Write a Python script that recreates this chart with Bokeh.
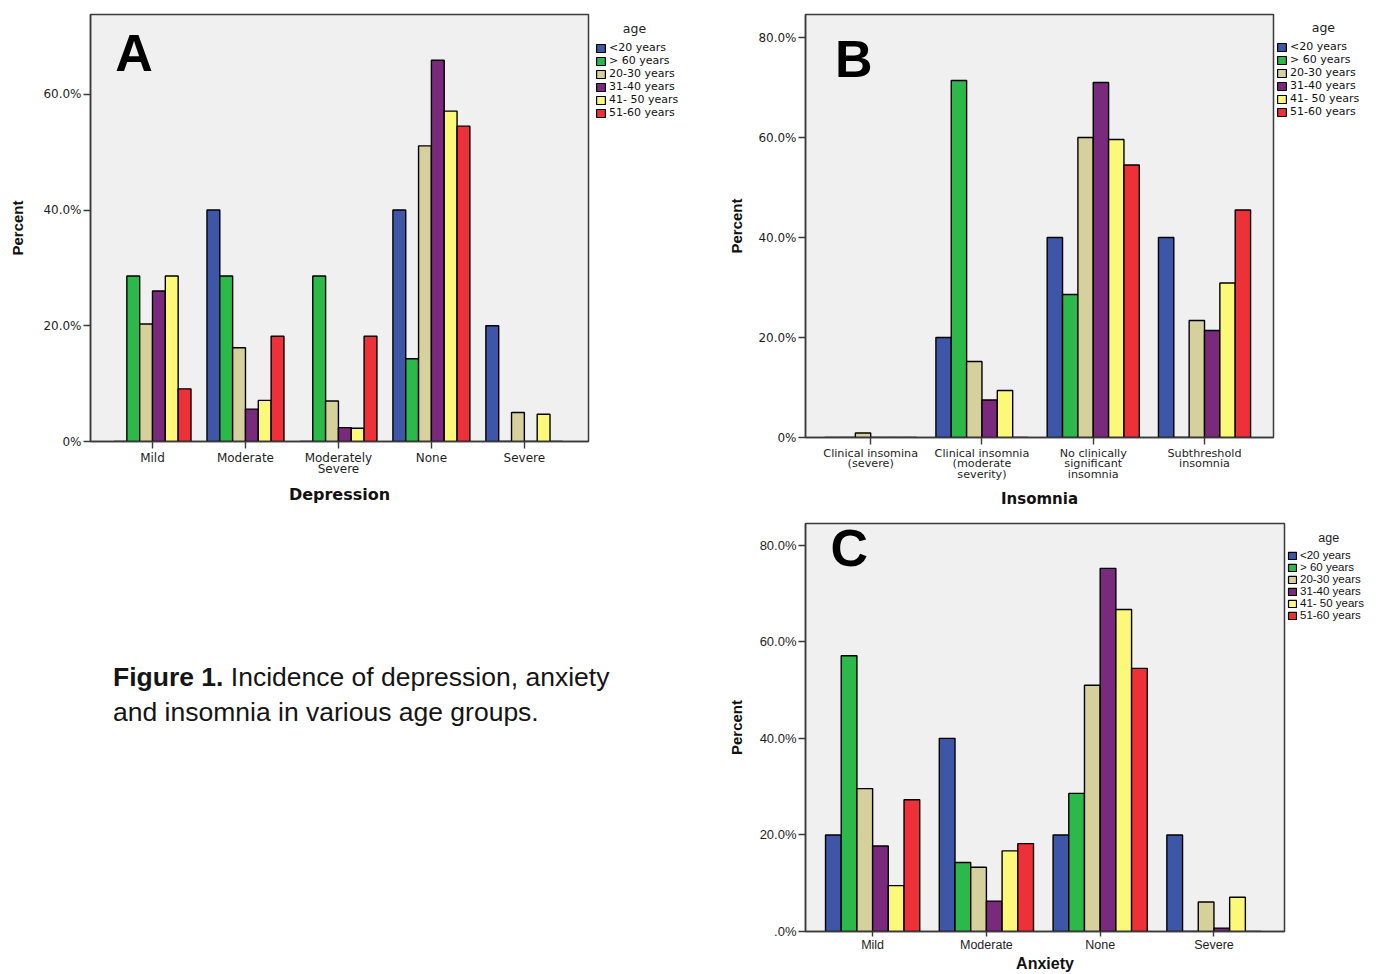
import numpy as np
from bokeh.plotting import figure
from bokeh.models import ColumnDataSource, Range1d, FixedTicker, Legend, LegendItem, Label, Div, Spacer
from bokeh.layouts import row, column
from bokeh.embed import file_html
from bokeh.resources import INLINE

# ---------------- data ----------------
age_groups = ["<20 years", "> 60 years", "20-30 years", "31-40 years", "41- 50 years", "51-60 years"]
age_colors = ["#3d56a8", "#2db84a", "#d6d19c", "#7a2a7c", "#fbf87a", "#ee3039"]

dep_categories = ["Mild", "Moderate", "Moderately\nSevere", "None", "Severe"]
dep_lt20 = [0.0, 40.0, 0.0, 40.0, 20.0]
dep_gt60 = [28.6, 28.6, 28.6, 14.3, 0.0]
dep_20_30 = [20.3, 16.2, 7.0, 51.1, 5.0]
dep_31_40 = [26.0, 5.6, 2.4, 65.9, 0.0]
dep_41_50 = [28.6, 7.1, 2.3, 57.1, 4.7]
dep_51_60 = [9.1, 18.2, 18.2, 54.5, 0.0]

ins_categories = ["Clinical insomina\n(severe)", "Clinical insomnia\n(moderate\nseverity)",
                  "No clinically\nsignificant\ninsomnia", "Subthreshold\ninsomnia"]
ins_lt20 = [0.0, 20.0, 40.0, 40.0]
ins_gt60 = [0.0, 71.4, 28.6, 0.0]
ins_20_30 = [0.9, 15.2, 60.0, 23.4]
ins_31_40 = [0.0, 7.5, 71.0, 21.4]
ins_41_50 = [0.0, 9.4, 59.6, 30.9]
ins_51_60 = [0.0, 0.0, 54.5, 45.5]

anx_categories = ["Mild", "Moderate", "None", "Severe"]
anx_lt20 = [20.0, 40.0, 20.0, 20.0]
anx_gt60 = [57.1, 14.3, 28.6, 0.0]
anx_20_30 = [29.6, 13.3, 51.0, 6.1]
anx_31_40 = [17.7, 6.3, 75.2, 0.7]
anx_41_50 = [9.5, 16.7, 66.7, 7.1]
anx_51_60 = [27.3, 18.2, 54.5, 0.0]

ytick_values = [0, 20, 40, 60, 80]
ytick_labels_ab = ["0%", "20.0%", "40.0%", "60.0%", "80.0%"]
ytick_labels_c = [".0%", "20.0%", "40.0%", "60.0%", "80.0%"]

BW = 0.138


def panel(cats, series, width, height, borders, xr, ymax, yticks, ylabels, xlabel,
          letter, letter_xy, font, ytick_size, xtick_size, xlab_size, ylab_standoff):
    left, right, top, bottom = borders
    p = figure(width=width, height=height, output_backend="svg", toolbar_location=None,
               x_range=Range1d(*xr), y_range=Range1d(0, ymax),
               min_border_left=left, min_border_right=right,
               min_border_top=top, min_border_bottom=bottom)
    p.background_fill_color = "#f0f0f0"
    p.border_fill_color = "white"
    p.outline_line_color = "#3a3a3a"
    p.outline_line_width = 1.5
    p.xgrid.visible = False
    p.ygrid.visible = False

    idx = np.arange(len(cats))
    for k, (vals, col) in enumerate(zip(series, age_colors)):
        src = ColumnDataSource(dict(x=idx + (k - 2.5) * BW, top=vals))
        p.vbar(x="x", top="top", bottom=0, width=BW, source=src,
               fill_color=col, line_color="black", line_width=1.4)

    for ax in (p.xaxis[0], p.yaxis[0]):
        ax.axis_line_color = "#3a3a3a"
        ax.axis_line_width = 1.5
        ax.major_tick_line_color = "#3a3a3a"
        ax.major_tick_line_width = 1.4
        ax.major_tick_in = 0
        ax.major_tick_out = 7
        ax.minor_tick_line_color = None
        ax.major_label_text_font = font
        ax.major_label_text_color = "#1e1e1e"
        ax.axis_label_text_font_style = "bold"
        ax.axis_label_text_color = "#111111"

    p.xaxis.ticker = FixedTicker(ticks=list(range(len(cats))))
    p.xaxis.major_label_overrides = {i: c for i, c in enumerate(cats)}
    p.xaxis.major_label_standoff = 2
    p.xaxis.major_label_text_font_size = xtick_size
    p.xaxis.major_label_text_line_height = 0.82
    p.xaxis.axis_label = xlabel
    p.xaxis.axis_label_text_font = font
    p.xaxis.axis_label_text_font_size = xlab_size
    p.xaxis.axis_label_standoff = 6

    p.yaxis.ticker = FixedTicker(ticks=yticks)
    p.yaxis.major_label_overrides = {v: l for v, l in zip(yticks, ylabels)}
    p.yaxis.major_label_standoff = 2
    p.yaxis.major_label_text_font_size = ytick_size
    p.yaxis.axis_label = "Percent"
    p.yaxis.axis_label_text_font = "Liberation Sans"
    p.yaxis.axis_label_text_font_size = "15px"
    p.yaxis.axis_label_standoff = ylab_standoff

    p.add_layout(Label(x=letter_xy[0], y=letter_xy[1], text=letter,
                       text_font="Liberation Sans", text_font_style="bold",
                       text_font_size="52px", text_color="black",
                       text_baseline="alphabetic", text_align="left"))
    return p


def legend_fig(width, height, top_gap, font, size, title_pad, label_height, spacing, glyph, pad,
               standoff):
    lf = figure(width=width, height=height - top_gap, output_backend="svg", toolbar_location=None,
                x_range=Range1d(0, 1), y_range=Range1d(0, 1), min_border=0,
                x_axis_location=None, y_axis_location=None)
    lf.grid.visible = False
    lf.outline_line_color = None
    lf.background_fill_color = "white"
    items = []
    for col, name in zip(age_colors, age_groups):
        # legend proxy: a zero-height bar placed outside the visible range
        src = ColumnDataSource(dict(x=[-10.0], top=[0.0]))
        r = lf.vbar(x="x", top="top", bottom=0, width=0.1, source=src, fill_color=col,
                    line_color="black", line_width=1.2)
        items.append(LegendItem(label=name, renderers=[r]))
    leg = Legend(items=items, location="top_left", title="\u00a0" * title_pad + "age",
                 title_text_font=font, title_text_font_size="12.5px",
                 title_text_font_style="normal", title_text_color="#222222",
                 title_standoff=standoff,
                 label_text_font=font, label_text_font_size=size,
                 label_text_color="#111111",
                 label_height=label_height, glyph_height=glyph, glyph_width=glyph + 1,
                 label_standoff=3, spacing=spacing, padding=pad, margin=0,
                 border_line_alpha=0, background_fill_alpha=0)
    lf.add_layout(leg)
    return column(Spacer(width=width, height=top_gap), lf, spacing=0)


pA = panel(dep_categories, [dep_lt20, dep_gt60, dep_20_30, dep_31_40, dep_41_50, dep_51_60],
           590, 510, (90, 2, 14, 69), (-0.667, 4.69), 73.8,
           ytick_values[:4], ytick_labels_ab[:4], "Depression",
           "A", (-0.40, 67.1), "DejaVu Sans", "12px", "12px", "16px", 14)
lA = legend_fig(110, 510, 16, "DejaVu Sans", "11px", 7, 13, 0, 10, 5, 5)

pB = panel(ins_categories, [ins_lt20, ins_gt60, ins_20_30, ins_31_40, ins_41_50, ins_51_60],
           575, 510, (105, 2, 14, 73), (-0.586, 3.62), 84.6,
           ytick_values, ytick_labels_ab, "Insomnia",
           "B", (-0.32, 75.8), "DejaVu Sans", "12px", "11.2px", "15px", 10)
lB = legend_fig(101, 510, 19, "DejaVu Sans", "11px", 9, 13, 0, 10, 1, 5)

pC = panel(anx_categories, [anx_lt20, anx_gt60, anx_20_30, anx_31_40, anx_41_50, anx_51_60],
           586, 464, (105, 2, 13, 40), (-0.59, 3.62), 84.5,
           ytick_values, ytick_labels_c, "Anxiety",
           "C", (-0.37, 79.5), "Liberation Sans", "13px", "12.5px", "16px", 12)
pC.xaxis.axis_label_standoff = 0
pC.xaxis.major_tick_out = 5
pC.xaxis.major_label_standoff = 1
lC = legend_fig(90, 464, 20, "Liberation Sans", "11.5px", 9, 11, 0, 9, 1, 4)

caption = Div(text=("<div style=\"font-family:'Liberation Sans',Arial,sans-serif;font-size:26.5px;"
                    "line-height:35px;color:#151515;padding-left:113px;padding-top:150px;"
                    "white-space:nowrap;\">"
                    "<b>Figure 1.</b> Incidence of depression, anxiety<br>"
                    "and insomnia in various age groups.</div>"),
              width=700, height=464, margin=0)

layout = row(column(row(pA, lA, spacing=0), caption, spacing=0),
             column(row(pB, lB, spacing=0), row(pC, lC, spacing=0), spacing=0),
             spacing=0)

open("out.html", "w").write(file_html(layout, INLINE))
